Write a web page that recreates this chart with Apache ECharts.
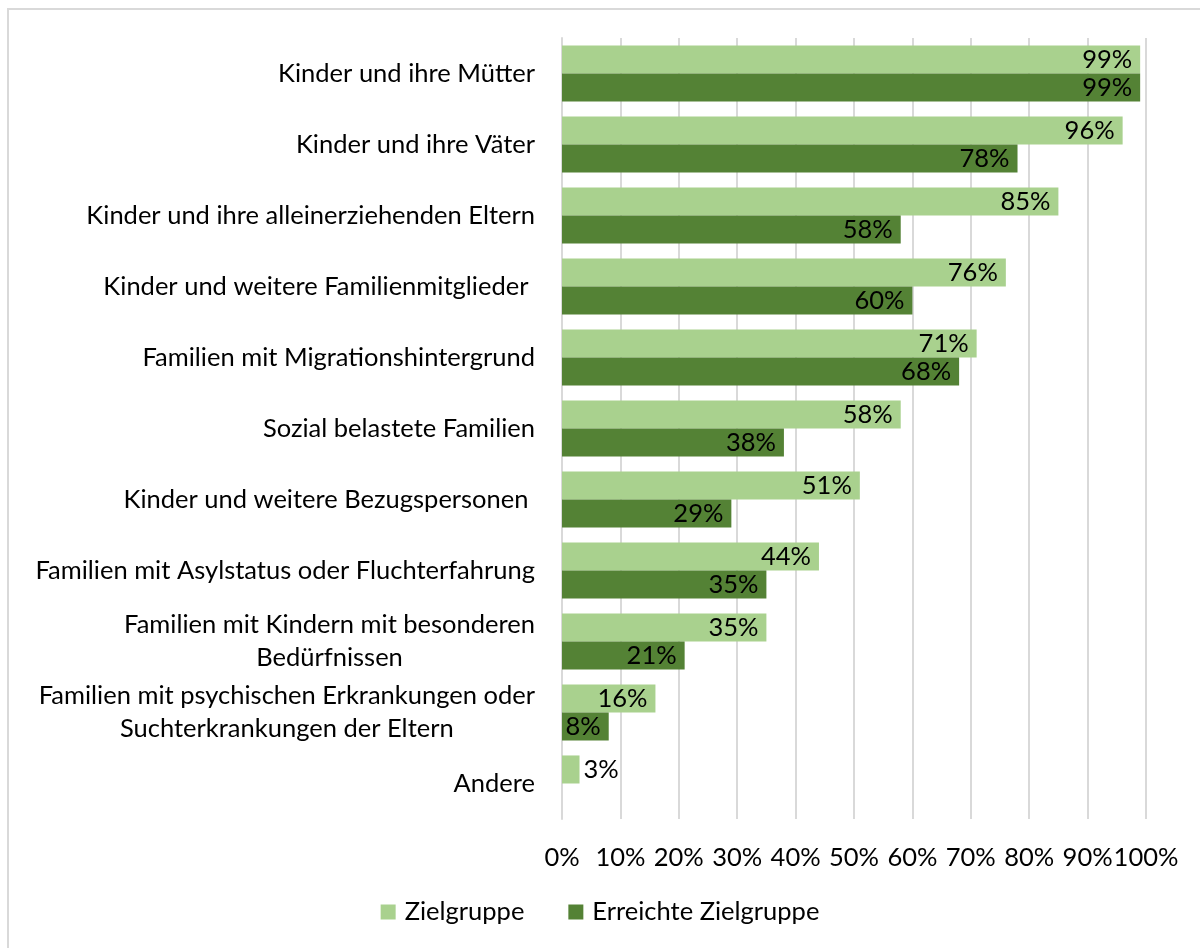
<!DOCTYPE html>
<html>
<head>
<meta charset="utf-8">
<script src="https://cdn.jsdelivr.net/npm/echarts@6/dist/echarts.min.js"></script>
<style>
  html, body { margin: 0; padding: 0; background: #fff; }
  #chart { width: 1200px; height: 948px; }
</style>
</head>
<body>
<div id="chart"></div>
<script>
// Kategorien (von oben nach unten)
const categories = [
  'Kinder und ihre Mütter',
  'Kinder und ihre Väter',
  'Kinder und ihre alleinerziehenden Eltern',
  'Kinder und weitere Familienmitglieder ',
  'Familien mit Migrationshintergrund',
  'Sozial belastete Familien',
  'Kinder und weitere Bezugspersonen ',
  'Familien mit Asylstatus oder Fluchterfahrung',
  'Familien mit Kindern mit besonderen\nBedürfnissen',
  'Familien mit psychischen Erkrankungen oder\nSuchterkrankungen der Eltern',
  'Andere'
];
const zielgruppe = [99, 96, 85, 76, 71, 58, 51, 44, 35, 16, 3];
const erreicht = [99, 78, 58, 60, 68, 38, 29, 35, 21, 8, null];
const xTicks = { min: 0, max: 100, interval: 10 };

const FONT = 'Lato';
const FS = 25.5;
const lightGreen = '#a9d18e';
const darkGreen = '#548235';
const gridGray = '#d9d9d9';

// kleine Balken: Beschriftung rechts daneben
function withLabels(values) {
  return values.map(v => {
    if (v === null) return null;
    if (v < 5) return { value: v, label: { position: 'right', distance: 4 } };
    return v;
  });
}

const myChart = echarts.init(document.getElementById('chart'));

const barLabel = {
  show: true,
  position: 'insideRight',
  distance: 8,
  formatter: '{c}%',
  fontSize: FS,
  color: '#000',
  fontFamily: FONT
};

const option = {
  animation: false,
  textStyle: { fontFamily: FONT },
  graphic: [{
    type: 'rect',
    shape: { x: 8, y: 9, width: 1300, height: 1100 },
    style: { fill: 'none', stroke: gridGray, lineWidth: 2 },
    silent: true
  }],
  grid: {
    left: 562,
    right: 54,
    top: 38,
    bottom: 129
  },
  legend: {
    data: ['Zielgruppe', 'Erreichte Zielgruppe'],
    bottom: 18,
    left: 'center',
    icon: 'rect',
    itemWidth: 15,
    itemHeight: 15,
    itemGap: 44,
    textStyle: { fontSize: FS, color: '#000', fontFamily: FONT, padding: [0, 0, 0, 4] }
  },
  xAxis: {
    type: 'value',
    min: xTicks.min,
    max: xTicks.max,
    interval: xTicks.interval,
    axisLine: { show: false },
    axisTick: { show: false },
    axisLabel: {
      formatter: '{value}%',
      fontSize: FS,
      color: '#000',
      margin: 26,
      fontFamily: FONT
    },
    splitLine: { lineStyle: { color: gridGray, width: 2 } }
  },
  yAxis: {
    type: 'category',
    inverse: true,
    data: categories,
    axisLine: { show: true, lineStyle: { color: gridGray, width: 2 } },
    axisTick: { show: false },
    axisLabel: {
      margin: 27,
      formatter: function (v) {
        return v.split('\n').map(s => '{c|' + s + '}').join('\n');
      },
      rich: {
        c: {
          align: 'center',
          fontSize: FS,
          lineHeight: 33,
          color: '#000',
          fontFamily: FONT
        }
      }
    }
  },
  series: [
    {
      name: 'Zielgruppe',
      type: 'bar',
      data: withLabels(zielgruppe),
      barCategoryGap: '21%',
      barGap: '0%',
      itemStyle: { color: lightGreen },
      label: barLabel
    },
    {
      name: 'Erreichte Zielgruppe',
      type: 'bar',
      data: withLabels(erreicht),
      barCategoryGap: '21%',
      barGap: '0%',
      itemStyle: { color: darkGreen },
      label: barLabel
    }
  ]
};

myChart.setOption(option);
</script>
</body>
</html>
